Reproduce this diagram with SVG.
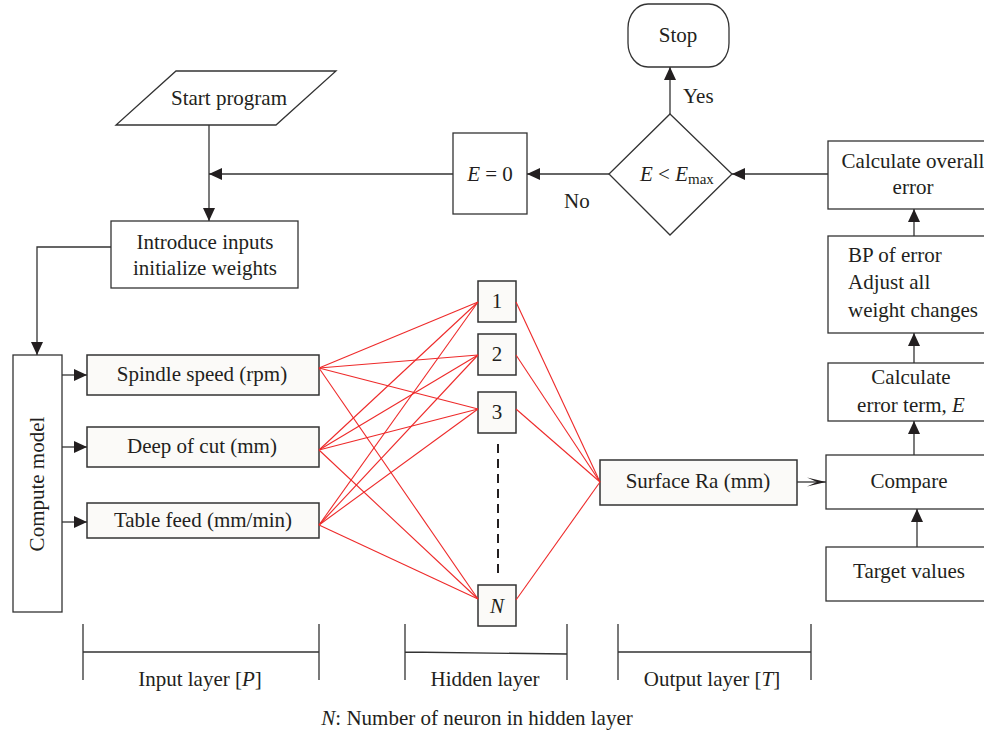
<svg xmlns="http://www.w3.org/2000/svg" width="984" height="735" viewBox="0 0 984 735">
<style>
text{font-family:"Liberation Serif","Times New Roman",serif;font-size:21px;fill:#231f20}
.box{fill:#fff;stroke:#333;stroke-width:1.3}
.nbox{fill:#fbfaf8;stroke:#333;stroke-width:1.5}
.ln{fill:none;stroke:#333;stroke-width:1.3}
.red{fill:none;stroke:#ee2a2a;stroke-width:1.1}
.it{font-style:italic}
.m{text-anchor:middle}
</style>
<defs>
<marker id="ah" markerUnits="userSpaceOnUse" markerWidth="14" markerHeight="12" refX="13" refY="6" orient="auto">
<path d="M0,0 L13,6 L0,12 z" fill="#231f20"/>
</marker>
<marker id="oa" markerUnits="userSpaceOnUse" markerWidth="20" markerHeight="12" refX="19" refY="6" orient="auto">
<path d="M0,1.5 L19,6 L0,10.5 L10,6 z" fill="#231f20"/>
</marker>
</defs>

<g id="start">
<polygon class="box" points="176,71 336,71 276,125 116,125"/>
<text class="m" x="229" y="105">Start program</text>
</g>
<g id="introduce">
<rect class="box" x="111" y="221" width="187" height="67"/>
<text class="m" x="205" y="249">Introduce inputs</text>
<text class="m" x="205" y="275">initialize weights</text>
</g>
<g id="compute">
<rect class="box" x="13" y="355" width="49" height="257"/>
<text class="m" transform="translate(44,484) rotate(-90)">Compute model</text>
</g>
<g id="spindle">
<rect class="nbox" x="87" y="355" width="232" height="40"/>
<text class="m" x="202" y="381">Spindle speed (rpm)</text>
</g>
<g id="deep">
<rect class="nbox" x="87" y="427" width="232" height="40"/>
<text class="m" x="202" y="453">Deep of cut (mm)</text>
</g>
<g id="table">
<rect class="nbox" x="87" y="503" width="232" height="35"/>
<text class="m" x="203" y="527">Table feed (mm/min)</text>
</g>
<g id="h1">
<rect class="nbox" x="478" y="281" width="38" height="41"/>
<text class="m" x="497" y="308">1</text>
</g>
<g id="h2">
<rect class="nbox" x="478" y="334" width="38" height="41"/>
<text class="m" x="497" y="361">2</text>
</g>
<g id="h3">
<rect class="nbox" x="478" y="392" width="38" height="41"/>
<text class="m" x="497" y="419">3</text>
</g>
<g id="hN">
<rect class="nbox" x="478" y="585" width="38" height="41"/>
<text class="m it" x="497" y="613">N</text>
</g>
<g id="surface">
<rect class="nbox" x="600" y="460" width="197" height="45"/>
<text class="m" x="698" y="488">Surface Ra (mm)</text>
</g>
<g id="compare">
<rect class="box" x="826" y="455" width="170" height="54"/>
<text class="m" x="909" y="488">Compare</text>
</g>
<g id="target">
<rect class="box" x="826" y="547" width="170" height="54"/>
<text class="m" x="909" y="578">Target values</text>
</g>
<g id="calcerr">
<rect class="box" x="828" y="363" width="170" height="58"/>
<text class="m" x="911" y="384">Calculate</text>
<text class="m" x="911" y="412">error term, <tspan class="it">E</tspan></text>
</g>
<g id="bp">
<rect class="box" x="828" y="236" width="170" height="97"/>
<text x="848" y="262">BP of error</text>
<text x="848" y="289">Adjust all</text>
<text x="848" y="317">weight changes</text>
</g>
<g id="overall">
<rect class="box" x="828" y="141" width="170" height="68"/>
<text class="m" x="913" y="168">Calculate overall</text>
<text class="m" x="913" y="194">error</text>
</g>
<g id="decision">
<polygon class="box" points="670,114 732,174 670,235 609,174"/>
<text x="640" y="181"><tspan class="it">E</tspan> &lt; <tspan class="it">E</tspan><tspan font-size="15" dy="3">max</tspan></text>
</g>
<g id="ezero">
<rect class="box" x="453" y="133" width="74" height="81"/>
<text class="m" x="490" y="181"><tspan class="it">E</tspan> = 0</text>
</g>
<g id="stop">
<rect class="box" x="628" y="4" width="101" height="63" rx="20" ry="24"/>
<text class="m" x="678" y="42">Stop</text>
</g>

<g id="connectors">
<line class="ln" x1="209" y1="125" x2="209" y2="221" marker-end="url(#ah)"/>
<line class="ln" x1="453" y1="174" x2="209" y2="174" marker-end="url(#ah)"/>
<polyline class="ln" points="111,247 37,247 37,355" marker-end="url(#ah)"/>
<line class="ln" x1="62" y1="375" x2="87" y2="375" marker-end="url(#ah)"/>
<line class="ln" x1="62" y1="447" x2="87" y2="447" marker-end="url(#ah)"/>
<line class="ln" x1="62" y1="522" x2="87" y2="522" marker-end="url(#ah)"/>
<g class="red">
<line x1="319" y1="368" x2="478" y2="302"/>
<line x1="319" y1="368" x2="478" y2="355"/>
<line x1="319" y1="368" x2="478" y2="409"/>
<line x1="319" y1="368" x2="478" y2="599"/>
<line x1="319" y1="450" x2="478" y2="302"/>
<line x1="319" y1="450" x2="478" y2="355"/>
<line x1="319" y1="450" x2="478" y2="409"/>
<line x1="319" y1="450" x2="478" y2="599"/>
<line x1="319" y1="525" x2="478" y2="302"/>
<line x1="319" y1="525" x2="478" y2="355"/>
<line x1="319" y1="525" x2="478" y2="409"/>
<line x1="319" y1="525" x2="478" y2="599"/>
<line x1="516" y1="302" x2="600" y2="482"/>
<line x1="516" y1="355" x2="600" y2="482"/>
<line x1="516" y1="409" x2="600" y2="482"/>
<line x1="516" y1="600" x2="600" y2="482"/>
</g>
<line x1="498" y1="444" x2="498" y2="573" stroke="#231f20" stroke-width="2" stroke-dasharray="9,6"/>
<line class="ln" x1="797" y1="482" x2="826" y2="482" marker-end="url(#oa)"/>
<line class="ln" x1="917" y1="547" x2="917" y2="509" marker-end="url(#ah)"/>
<line class="ln" x1="914" y1="455" x2="914" y2="421" marker-end="url(#ah)"/>
<line class="ln" x1="914" y1="363" x2="914" y2="333" marker-end="url(#ah)"/>
<line class="ln" x1="914" y1="236" x2="914" y2="209" marker-end="url(#ah)"/>
<line class="ln" x1="828" y1="174" x2="732" y2="174" marker-end="url(#ah)"/>
<line class="ln" x1="609" y1="174" x2="527" y2="174" marker-end="url(#ah)"/>
<line class="ln" x1="670" y1="114" x2="670" y2="67" marker-end="url(#ah)"/>
</g>
<text x="683" y="103">Yes</text>
<text x="564" y="208">No</text>

<g id="layers">
<path class="ln" d="M83,624 V680 M319,624 V680 M83,652 H319"/>
<path class="ln" d="M405,624 V680 M567,624 V680 M405,652 L567,654"/>
<path class="ln" d="M618,624 V680 M811,624 V680 M618,652 H811"/>
<text class="m" x="200" y="686">Input layer [<tspan class="it">P</tspan>]</text>
<text class="m" x="485" y="686">Hidden layer</text>
<text class="m" x="712" y="686">Output layer [<tspan class="it">T</tspan>]</text>
<text class="m" x="477" y="725"><tspan class="it">N</tspan>: Number of neuron in hidden layer</text>
</g>
</svg>
